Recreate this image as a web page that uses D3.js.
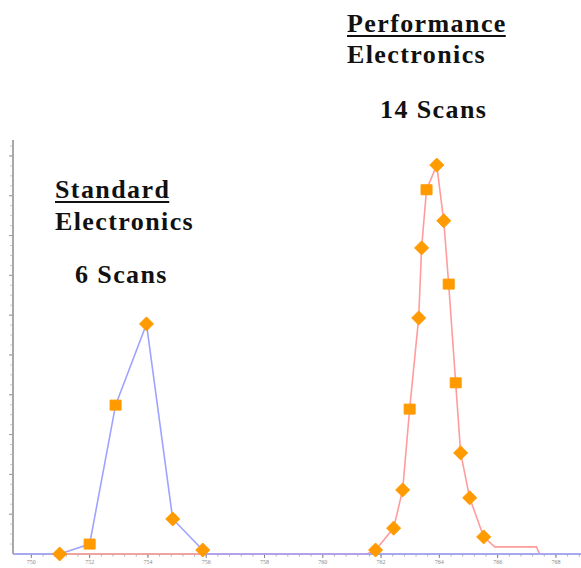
<!DOCTYPE html>
<html>
<head>
<meta charset="utf-8">
<script src="https://cdn.jsdelivr.net/npm/d3@7"></script>
<style>
  html, body { margin: 0; padding: 0; background: #fff; }
  svg { display: block; }
</style>
</head>
<body>
<svg id="chart" width="581" height="568"></svg>
<script>
// Mass axis (x) and scan count (y) for the two electronics configurations
const xTickLabels = ["750", "752", "754", "756", "758", "760", "762", "764", "766", "768"];

// Standard electronics: 6 scans
const standardX = [750.97, 752.0, 752.89, 753.95, 754.85, 755.88];
const standardY = [0.0, 0.25, 3.74, 5.78, 0.88, 0.1];

// Performance electronics: 14 scans
const performanceX = [761.81, 762.43, 762.74, 762.98, 763.29, 763.39, 763.56, 763.91,
                      764.15, 764.32, 764.56, 764.73, 765.04, 765.52];
const performanceY = [0.1, 0.65, 1.61, 3.64, 5.93, 7.69, 9.15, 9.77,
                      8.37, 6.78, 4.3, 2.54, 1.41, 0.43];

// Trailing profile of the performance trace after the last scan
const performanceTailX = [765.9, 767.33, 767.44];
const performanceTailY = [0.18, 0.18, 0.0];

// Marker shape per scan point
const standardShapes = ["diamond", "square", "square", "diamond", "diamond", "diamond"];
const performanceShapes = ["diamond", "diamond", "diamond", "square", "diamond", "diamond", "square",
                           "diamond", "diamond", "square", "square", "diamond", "diamond", "diamond"];

const svg = d3.select("#chart");
const W = 581, H = 568;

const x = d3.scaleLinear().domain([749.37, 768.86]).range([13, 581]);
const y = d3.scaleLinear().domain([0, 10.4]).range([554, 140]);

const xMin = x.domain()[0], xMax = x.domain()[1];

// Axes
const axisColor = "#a8a8a8";
const gx = svg.append("g").attr("transform", `translate(0,${y(0)})`);
gx.append("line").attr("x1", x(xMin)).attr("x2", W).attr("stroke", axisColor).attr("stroke-width", 1.5);
const minorX = d3.range(750, 768.9, 0.4);
gx.selectAll("line.minor").data(minorX).join("line")
  .attr("class", "minor")
  .attr("x1", d => x(d)).attr("x2", d => x(d))
  .attr("y1", 0).attr("y2", 2.5)
  .attr("stroke", "#999").attr("stroke-width", 0.8);
gx.selectAll("line.major").data(xTickLabels).join("line")
  .attr("class", "major")
  .attr("x1", d => x(+d)).attr("x2", d => x(+d))
  .attr("y1", 0).attr("y2", 4)
  .attr("stroke", "#888").attr("stroke-width", 1);
gx.selectAll("text").data(xTickLabels).join("text")
  .attr("x", d => x(+d)).attr("y", 10)
  .attr("text-anchor", "middle")
  .attr("font-family", "Liberation Serif, serif")
  .attr("font-size", 6)
  .attr("fill", "#888")
  .text(d => d);

const gy = svg.append("g").attr("transform", `translate(${x(xMin)},0)`);
gy.append("line").attr("y1", y(10.4)).attr("y2", y(0)).attr("stroke", axisColor).attr("stroke-width", 2);
gy.selectAll("line.minor").data(d3.range(0.25, 10.3, 0.25)).join("line")
  .attr("class", "minor")
  .attr("x1", -1).attr("x2", -3)
  .attr("y1", d => y(d)).attr("y2", d => y(d))
  .attr("stroke", "#bbb").attr("stroke-width", 0.8);
gy.selectAll("line.major").data(d3.range(1, 11, 1)).join("line")
  .attr("class", "major")
  .attr("x1", -1).attr("x2", -4)
  .attr("y1", d => y(d)).attr("y2", d => y(d))
  .attr("stroke", "#999").attr("stroke-width", 1);

// Traces
const line = d3.line().x(d => x(d[0])).y(d => y(d[1]));

const perfPts = [[standardX[0], 0]]
  .concat(performanceX.map((v, i) => [v, performanceY[i]]))
  .concat(performanceTailX.map((v, i) => [v, performanceTailY[i]]));
// start the performance trace along the baseline before its peak
perfPts.splice(1, 0, [performanceX[0] - 0.3, 0]);

const lastStd = standardX[standardX.length - 1];
const stdPts = [[xMin, 0]]
  .concat(standardX.map((v, i) => [v, standardY[i]]))
  .concat([[lastStd + 0.1, 0], [xMax, 0]]);

svg.append("path").datum(perfPts).attr("d", line)
  .attr("fill", "none").attr("stroke", "#ff9c9c").attr("stroke-width", 1.6);
svg.append("path").datum(stdPts).attr("d", line)
  .attr("fill", "none").attr("stroke", "#9fa3ff").attr("stroke-width", 1.6);

// Scan markers
const markerColor = "#ff9a00";
function markerPath(shape) {
  if (shape === "square") return "M-5.5,-5L5.5,-5L5.5,5L-5.5,5Z";
  return "M0,-7L7,0L0,7L-7,0Z";
}
function drawMarkers(xs, ys, shapes) {
  svg.append("g").selectAll("path").data(xs.map((v, i) => [v, ys[i], shapes[i]])).join("path")
    .attr("transform", d => `translate(${x(d[0])},${y(d[1])})`)
    .attr("d", d => markerPath(d[2]))
    .attr("fill", markerColor)
    .attr("stroke", markerColor)
    .attr("stroke-width", 1)
    .attr("stroke-linejoin", "round");
}
drawMarkers(standardX, standardY, standardShapes);
drawMarkers(performanceX, performanceY, performanceShapes);

// Annotations
function label(txt, lx, ly, underline) {
  const t = svg.append("text")
    .attr("x", lx).attr("y", ly)
    .attr("font-family", "Liberation Serif, Times New Roman, serif")
    .attr("font-weight", "bold")
    .attr("font-size", 26)
    .attr("letter-spacing", 1.4)
    .attr("fill", "#111")
    .text(txt);
  if (underline) {
    const b = t.node().getBBox();
    svg.append("line")
      .attr("x1", lx).attr("x2", b.x + b.width - 1)
      .attr("y1", ly + 4).attr("y2", ly + 4)
      .attr("stroke", "#111").attr("stroke-width", 2);
  }
}
label("Standard", 55, 198, true);
label("Electronics", 55, 230, false);
label("6 Scans", 75, 283, false);
label("Performance", 347, 32, true);
label("Electronics", 347, 63, false);
label("14 Scans", 380, 118, false);
</script>
</body>
</html>
